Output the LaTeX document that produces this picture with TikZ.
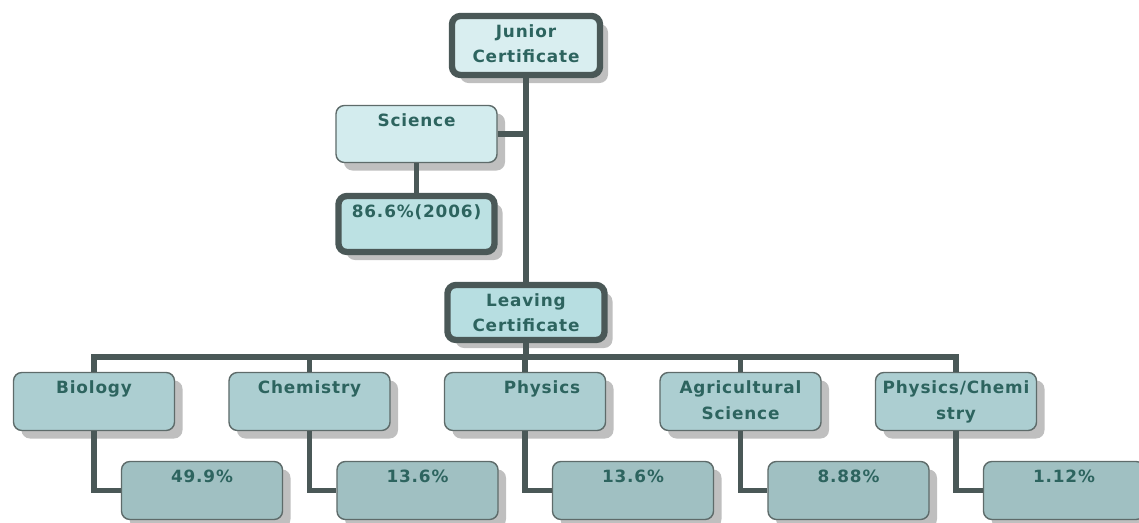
\documentclass[tikz,border=0pt]{standalone}
\usepackage{fontspec}
\setmainfont{DejaVu Sans}[LetterSpace=5]
\usetikzlibrary{shadows}
\definecolor{linec}{HTML}{4A5857}
\definecolor{thinc}{HTML}{5E6B6A}
\definecolor{txtc}{HTML}{2D645F}
\definecolor{jcfill}{HTML}{D9EEF0}
\definecolor{scifill}{HTML}{D3ECEE}
\definecolor{pctfill}{HTML}{BCE1E3}
\definecolor{lcfill}{HTML}{B7DEE1}
\definecolor{subfill}{HTML}{ACCED1}
\definecolor{valfill}{HTML}{A0C0C2}
\tikzset{
  orgbox/.style={rectangle, rounded corners=6pt, inner sep=0pt, text=txtc,
                 font=\fontsize{12}{18}\selectfont\bfseries,
                 drop shadow={shadow xshift=0.2cm, shadow yshift=-0.2cm,
                              fill=black!25, opacity=1}},
  thinb/.style={orgbox, draw=thinc, line width=1pt},
  thickb/.style={orgbox, draw=linec, line width=4.5pt},
  link/.style={draw=linec, line width=3.6pt},
}
\newcommand{\boxtxt}[3]{\parbox[c][#2][t]{#1}{\centering\vspace*{6pt}#3}}

\begin{document}
\begin{tikzpicture}[x=0.025cm, y=-0.025cm]
  \useasboundingbox (0,0) rectangle (1139,523);
  % top part
  \node[thickb, fill=jcfill]  (jc)   at (526,45.5)  {\boxtxt{3.7cm}{1.475cm}{Junior\\Certificate}};
  \node[thinb, fill=scifill]  (sci)  at (416.5,134) {\boxtxt{4.025cm}{1.425cm}{Science}};
  \node[thickb, fill=pctfill] (sciv) at (416.5,224) {\boxtxt{3.9cm}{1.4cm}{86.6\%(2006)}};
  \node[thickb, fill=lcfill]  (lc)   at (526,312.5) {\boxtxt{3.925cm}{1.375cm}{Leaving\\Certificate}};
  \coordinate (bar) at (526,357);
  \draw[link] (jc.south) -- (lc.north);
  \draw[link] (lc.south) -- (bar);
  \draw[link] (sci.east) -- (sci.east -| jc.south);
  \draw[link] (sci.south) -- (sciv.north);
  % subjects and their shares
  \foreach \i/\name/\txt/\val in {0/bio/Biology/49.9, 1/chem/Chemistry/13.6,
      2/phys/{\hspace*{0.85cm}Physics}/13.6, 3/agri/{Agricultural\\Science}/8.88,
      4/phch/{Physics/Chemi\\stry}/1.12}{
    \node[thinb, fill=subfill] (\name)   at (94+215.5*\i,401.5)  {\boxtxt{4.025cm}{1.45cm}{\txt}};
    \node[thinb, fill=valfill] (\name-v) at (202+215.5*\i,490.5) {\boxtxt{4.025cm}{1.45cm}{\val\%}};
    \draw[link] (\name.north) |- (bar);
    \draw[link] (\name.south) |- (\name-v.west);
  }
\end{tikzpicture}
\end{document}
